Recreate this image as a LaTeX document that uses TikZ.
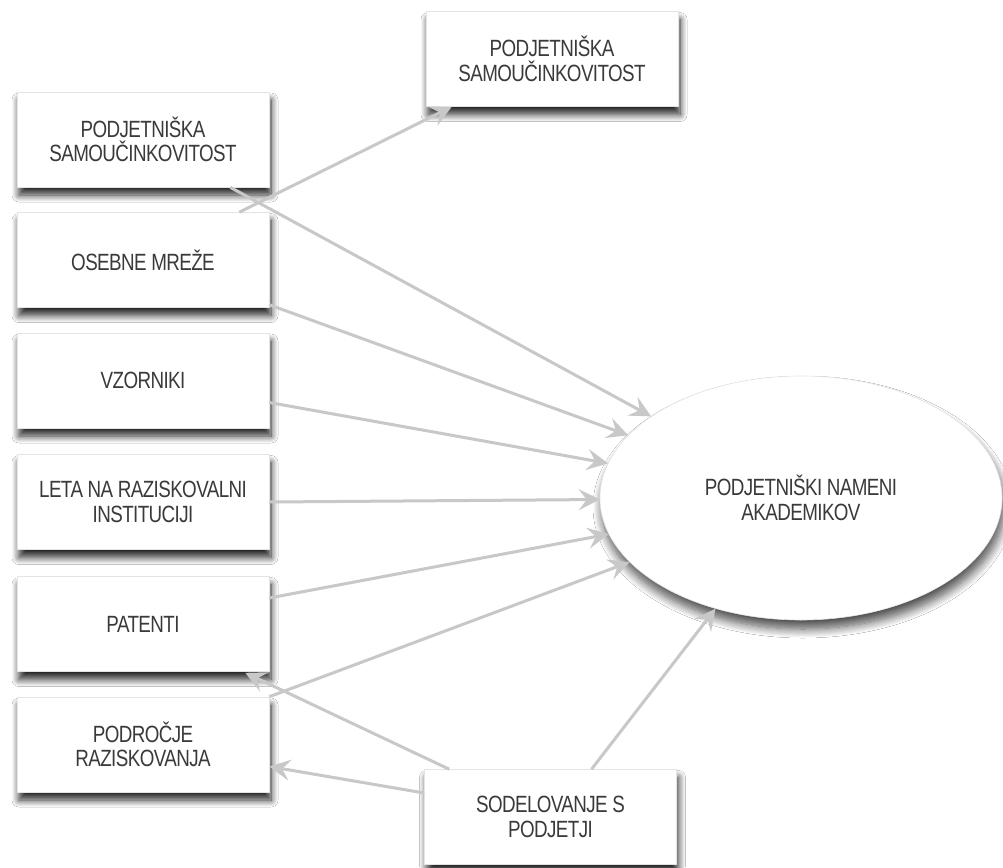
\documentclass[tikz,border=0pt]{standalone}
\usepackage{fontspec}
\setmainfont{Liberation Sans}[FakeStretch=0.8,LetterSpace=-2.5]
\usetikzlibrary{shapes.geometric,arrows.meta,shadows.blur}
\definecolor{linegray}{HTML}{C8C8C8}
\definecolor{textgray}{HTML}{3A3A3A}
\definecolor{edgegray}{HTML}{E4E4E4}
\begin{document}
\begin{tikzpicture}[x=1pt,y=-1pt,
  every node/.style={font=\fontsize{23.5}{24.5}\selectfont, text=textgray},
  box/.style={rectangle, draw=edgegray, line width=0.6pt, fill=white,
    minimum width=252pt, minimum height=95pt, inner sep=0pt, align=center,
    blur shadow={shadow xshift=2pt, shadow yshift=-8pt, shadow blur radius=7pt, shadow blur steps=12, shadow opacity=85}},
  oval/.style={ellipse, draw=edgegray, line width=0.6pt, fill=white,
    minimum width=402pt, minimum height=244pt, inner sep=0pt, align=center,
    blur shadow={shadow xshift=2pt, shadow yshift=-9pt, shadow blur radius=9pt, shadow blur steps=12, shadow opacity=70}},
  conn/.style={draw=linegray, line width=3pt,
    -{Stealth[length=21pt, width=21pt, inset=8pt, fill=linegray]}}
]
\useasboundingbox (0,0) rectangle (1003,867);
\fill[white] (0,0) rectangle (1003,867);

\node[box] (T)  at (552,59)    {PODJETNIŠKA\\SAMOUČINKOVITOST};
\node[box] (B1) at (143,139.5) {PODJETNIŠKA\\SAMOUČINKOVITOST};
\node[box] (B2) at (143,260)   {OSEBNE MREŽE};
\node[box] (B3) at (143,380.5) {VZORNIKI};
\node[box] (B4) at (143,502)   {LETA NA RAZISKOVALNI\\INSTITUCIJI};
\node[box] (B5) at (143,624)   {PATENTI};
\node[box] (B6) at (143,744.5) {PODROČJE\\RAZISKOVANJA};
\node[box] (S)  at (550.5,817) {SODELOVANJE S\\PODJETJI};
\node[oval] (E) at (801,498)   {PODJETNIŠKI NAMENI\\AKADEMIKOV};

\draw[conn] ([xshift=-30pt]B2.north east) -- ([xshift=26pt]T.south west);
\draw[conn] ([xshift=-39pt]B1.south east) -- (E);
\draw[conn] ([yshift=3pt]B2.south east) -- (E);
\draw[conn] ([yshift=-22pt]B3.east) -- (E);
\draw[conn] (B4.east) -- (E);
\draw[conn] ([yshift=26pt]B5.east) -- (E);
\draw[conn] (B6.north east) -- (E);
\draw[conn] ([xshift=41pt]S.north) -- (E);
\draw[conn] ([xshift=25pt]S.north west) -- ([xshift=-24pt,yshift=-1pt]B5.south east);
\draw[conn] ([yshift=24pt]S.west) -- ([yshift=-22pt]B6.east);
\end{tikzpicture}
\end{document}
